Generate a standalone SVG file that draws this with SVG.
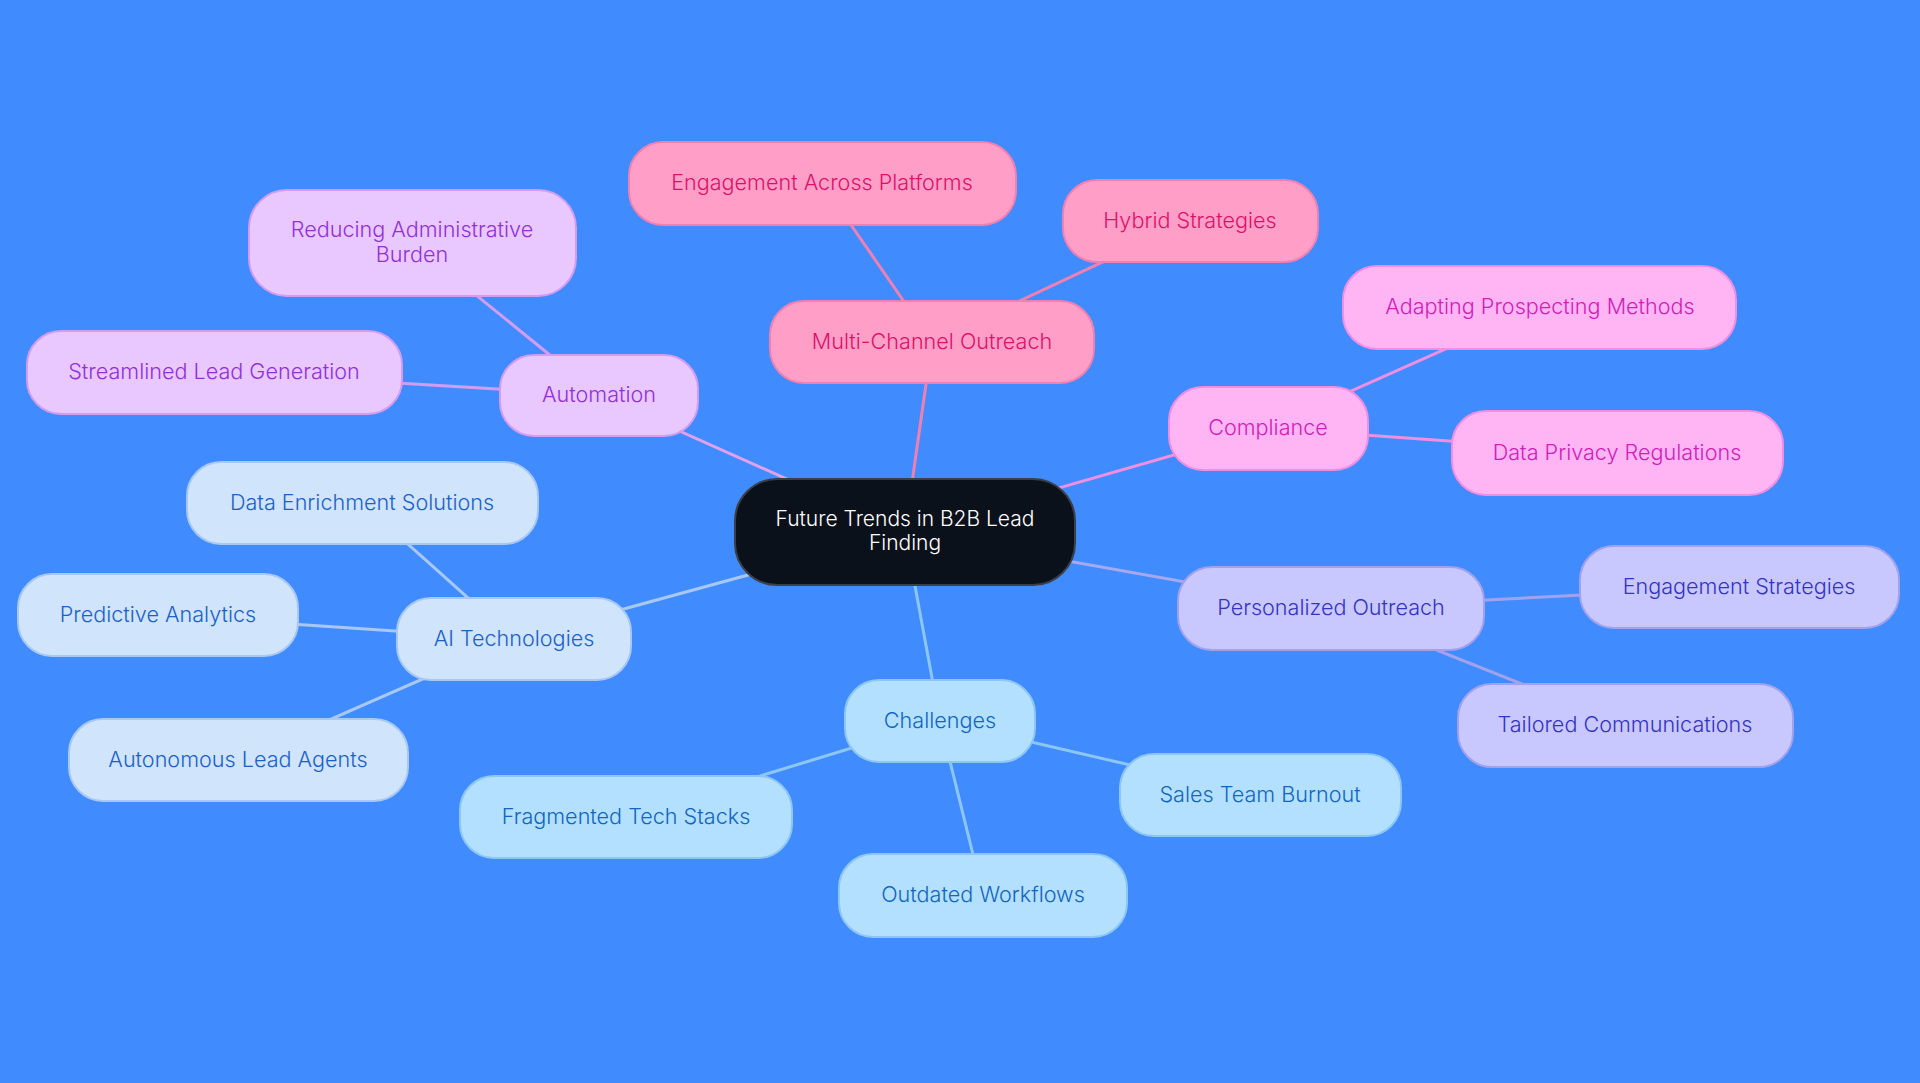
<svg xmlns="http://www.w3.org/2000/svg" width="1920" height="1083" viewBox="0 0 1920 1083">
<style>
text{font-family:"Inter","Liberation Sans",sans-serif;font-size:21.6px;font-weight:300;text-anchor:middle;dominant-baseline:central}
.e{stroke-width:3;fill:none}
.pk rect{fill:#FF9FC8;stroke:#F07FB2;stroke-width:2}.pk text{fill:#E0106A}
.lv rect{fill:#E8C8FF;stroke:#D49CF0;stroke-width:2}.lv text{fill:#9230D8}
.mg rect{fill:#FFB4F4;stroke:#F08EE2;stroke-width:2}.mg text{fill:#D01EB8}
.pw rect{fill:#C8C8FF;stroke:#A2A2EC;stroke-width:2}.pw text{fill:#3434C0}
.lb rect{fill:#B4E0FF;stroke:#8EC6F2;stroke-width:2}.lb text{fill:#1066C0}
.ai rect{fill:#D0E4FC;stroke:#A8C8F2;stroke-width:2}.ai text{fill:#1A62C8}
#center text{font-size:21px;fill:#FFFFFF}
</style>
<rect width="1920" height="1083" fill="#408CFF"/>
<g id="connectors">
<line class="e" x1="905" y1="532" x2="932" y2="342" stroke="#F07FB2"/>
<line class="e" x1="905" y1="532" x2="599" y2="395" stroke="#E0A0EA"/>
<line class="e" x1="905" y1="532" x2="1268" y2="428" stroke="#F08EE2"/>
<line class="e" x1="905" y1="532" x2="1331" y2="608" stroke="#A8A8EE"/>
<line class="e" x1="905" y1="532" x2="940" y2="721" stroke="#8EC6F2"/>
<line class="e" x1="905" y1="532" x2="514" y2="639" stroke="#A8C8F2"/>
<line class="e" x1="932" y1="342" x2="822" y2="183" stroke="#F07FB2"/>
<line class="e" x1="932" y1="342" x2="1190" y2="221" stroke="#F07FB2"/>
<line class="e" x1="599" y1="395" x2="412" y2="243" stroke="#D49CF0"/>
<line class="e" x1="599" y1="395" x2="214" y2="372" stroke="#D49CF0"/>
<line class="e" x1="1268" y1="428" x2="1540" y2="307" stroke="#F08EE2"/>
<line class="e" x1="1268" y1="428" x2="1617" y2="453" stroke="#F08EE2"/>
<line class="e" x1="1331" y1="608" x2="1739" y2="587" stroke="#A2A2EC"/>
<line class="e" x1="1331" y1="608" x2="1625" y2="725" stroke="#A2A2EC"/>
<line class="e" x1="940" y1="721" x2="626" y2="817" stroke="#8EC6F2"/>
<line class="e" x1="940" y1="721" x2="1260" y2="795" stroke="#8EC6F2"/>
<line class="e" x1="940" y1="721" x2="983" y2="895" stroke="#8EC6F2"/>
<line class="e" x1="514" y1="639" x2="362" y2="503" stroke="#A8C8F2"/>
<line class="e" x1="514" y1="639" x2="158" y2="615" stroke="#A8C8F2"/>
<line class="e" x1="514" y1="639" x2="238" y2="760" stroke="#A8C8F2"/>
</g>
<g id="center"><rect x="735" y="479" width="340" height="106" rx="42" fill="#0B111B" stroke="#3A3F48" stroke-width="2"/><text x="905" y="518">Future Trends in B2B Lead</text><text x="905" y="542">Finding</text></g>
<g id="multi-channel" class="pk"><rect x="770" y="301" width="324" height="82" rx="34"/><text x="932" y="341">Multi-Channel Outreach</text></g>
<g id="engagement-across" class="pk"><rect x="629" y="142" width="387" height="83" rx="34"/><text x="822" y="182">Engagement Across Platforms</text></g>
<g id="hybrid" class="pk"><rect x="1063" y="180" width="255" height="82" rx="34"/><text x="1190" y="220">Hybrid Strategies</text></g>
<g id="automation" class="lv"><rect x="500" y="355" width="198" height="81" rx="34"/><text x="599" y="394">Automation</text></g>
<g id="reducing" class="lv"><rect x="249" y="190" width="327" height="106" rx="38"/><text x="412" y="229">Reducing Administrative</text><text x="412" y="254">Burden</text></g>
<g id="streamlined" class="lv"><rect x="27" y="331" width="375" height="83" rx="34"/><text x="214" y="371">Streamlined Lead Generation</text></g>
<g id="compliance" class="mg"><rect x="1169" y="387" width="199" height="83" rx="34"/><text x="1268" y="427">Compliance</text></g>
<g id="adapting" class="mg"><rect x="1343" y="266" width="393" height="83" rx="34"/><text x="1540" y="306">Adapting Prospecting Methods</text></g>
<g id="data-privacy" class="mg"><rect x="1452" y="411" width="331" height="84" rx="34"/><text x="1617" y="452">Data Privacy Regulations</text></g>
<g id="personalized" class="pw"><rect x="1178" y="567" width="306" height="83" rx="34"/><text x="1331" y="607">Personalized Outreach</text></g>
<g id="engagement-strategies" class="pw"><rect x="1580" y="546" width="319" height="82" rx="34"/><text x="1739" y="586">Engagement Strategies</text></g>
<g id="tailored" class="pw"><rect x="1458" y="684" width="335" height="83" rx="34"/><text x="1625" y="724">Tailored Communications</text></g>
<g id="challenges" class="lb"><rect x="845" y="680" width="190" height="82" rx="34"/><text x="940" y="720">Challenges</text></g>
<g id="fragmented" class="lb"><rect x="460" y="776" width="332" height="82" rx="34"/><text x="626" y="816">Fragmented Tech Stacks</text></g>
<g id="sales-burnout" class="lb"><rect x="1120" y="754" width="281" height="82" rx="34"/><text x="1260" y="794">Sales Team Burnout</text></g>
<g id="outdated" class="lb"><rect x="839" y="854" width="288" height="83" rx="34"/><text x="983" y="894">Outdated Workflows</text></g>
<g id="ai" class="ai"><rect x="397" y="598" width="234" height="82" rx="34"/><text x="514" y="638">AI Technologies</text></g>
<g id="data-enrichment" class="ai"><rect x="187" y="462" width="351" height="82" rx="34"/><text x="362" y="502">Data Enrichment Solutions</text></g>
<g id="predictive" class="ai"><rect x="18" y="574" width="280" height="82" rx="34"/><text x="158" y="614">Predictive Analytics</text></g>
<g id="autonomous" class="ai"><rect x="69" y="719" width="339" height="82" rx="34"/><text x="238" y="759">Autonomous Lead Agents</text></g>
</svg>
